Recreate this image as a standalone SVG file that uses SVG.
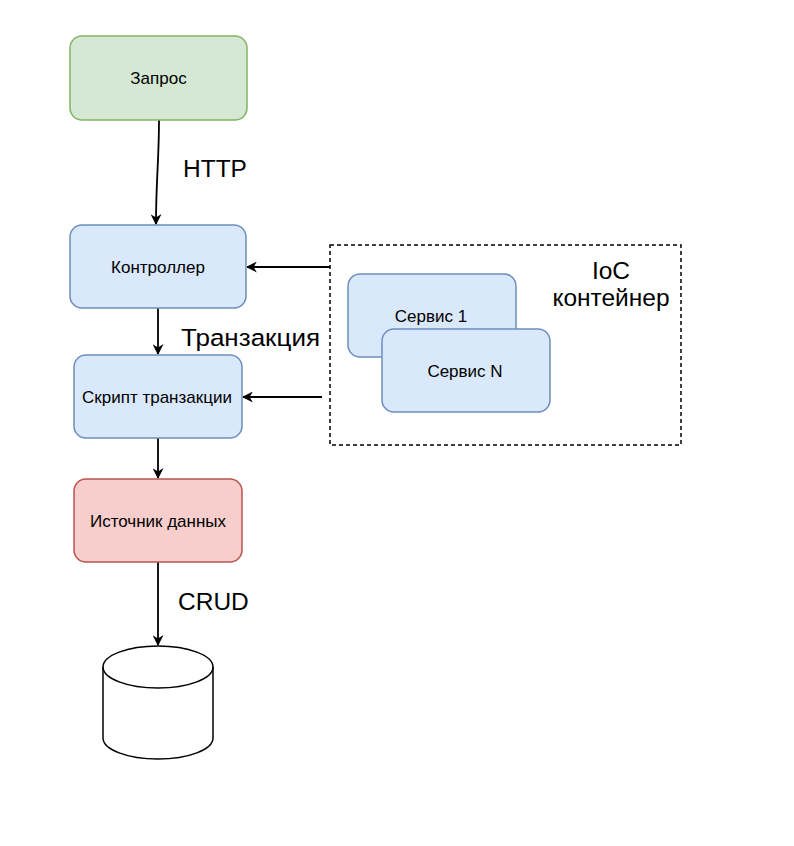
<svg xmlns="http://www.w3.org/2000/svg" width="794" height="846" viewBox="0 0 794 846">
<defs>
<style>
.t{font-family:"Liberation Sans",Arial,sans-serif;font-size:17px;fill:#000;text-anchor:middle;dominant-baseline:central}
.lbl{font-family:"Liberation Sans",Arial,sans-serif;font-size:24.5px;fill:#000}
.blue{fill:#dae8fc;stroke:#6c8ebf;stroke-width:1.5}
.green{fill:#d5e8d4;stroke:#82b366;stroke-width:1.5}
.red{fill:#f8cecc;stroke:#b85450;stroke-width:1.5}
.c{fill:none;stroke:#000;stroke-width:1.8}
</style>
<marker id="ah" viewBox="0 0 10 10" refX="9" refY="5" markerWidth="11" markerHeight="11" markerUnits="userSpaceOnUse" orient="auto">
<path d="M0,0 L10,5 L0,10 L3,5 Z" fill="#000"/>
</marker>
</defs>
<rect width="794" height="846" fill="#fff"/>
<g id="connectors">
<path class="c" d="M159,120 C159,160 156,180 156,224" marker-end="url(#ah)"/>
<path class="c" d="M158,308 L158,354" marker-end="url(#ah)"/>
<path class="c" d="M330,267 L247,267" marker-end="url(#ah)"/>
<path class="c" d="M322,397 L243,397" marker-end="url(#ah)"/>
<path class="c" d="M158,438 L158,478" marker-end="url(#ah)"/>
<path class="c" d="M158,562 L158,645" marker-end="url(#ah)"/>
</g>
<g id="labels">
<text class="lbl" x="183" y="177">HTTP</text>
<text class="lbl" x="181" y="346" textLength="139" lengthAdjust="spacingAndGlyphs">Транзакция</text>
<text class="lbl" x="178" y="610">CRUD</text>
</g>
<g id="ioc">
<rect x="330" y="245" width="351" height="200" fill="none" stroke="#000" stroke-width="1.5" stroke-dasharray="4,3"/>
<text class="lbl" x="611" y="279" text-anchor="middle">IoC</text>
<text class="lbl" x="611" y="306" text-anchor="middle">контейнер</text>
</g>
<g id="zapros"><rect class="green" x="70" y="36" width="177" height="84" rx="12"/><text class="t" x="158.5" y="78">Запрос</text></g>
<g id="controller"><rect class="blue" x="70" y="225" width="176" height="83" rx="12"/><text class="t" x="158" y="267">Контроллер</text></g>
<g id="script"><rect class="blue" x="74" y="355" width="168" height="83" rx="12"/><text class="t" x="157" y="397">Скрипт транзакции</text></g>
<g id="service1"><rect class="blue" x="348" y="274" width="168" height="83" rx="12"/><text class="t" x="431" y="316">Сервис 1</text></g>
<g id="serviceN"><rect class="blue" x="382" y="329" width="168" height="83" rx="12"/><text class="t" x="465" y="371">Сервис N</text></g>
<g id="source"><rect class="red" x="74" y="479" width="168" height="83" rx="12"/><text class="t" x="158" y="521">Источник данных</text></g>
<g id="db">
<path d="M103,667 A55,21 0 0 1 213,667 L213,738 A55,21 0 0 1 103,738 Z" fill="#fff" stroke="#000" stroke-width="1.5"/>
<path d="M103,667 A55,21 0 0 0 213,667" fill="none" stroke="#000" stroke-width="1.5"/>
</g>
</svg>
